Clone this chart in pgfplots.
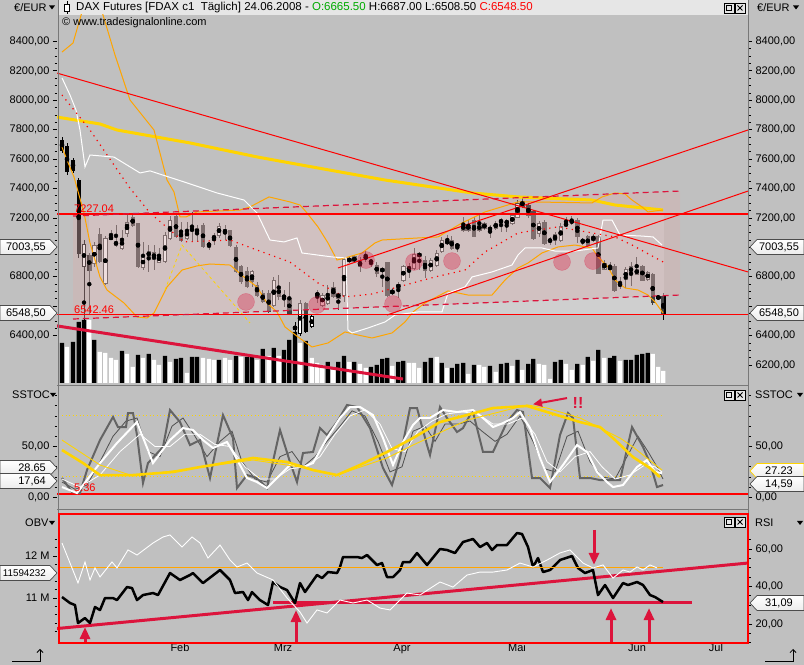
\documentclass[border=0pt]{standalone}
\usepackage{pgfplots}
\pgfplotsset{compat=1.18}
\usepackage{pgfplotstable}
\usepackage{fontspec}
\setmainfont{Liberation Sans}
\usetikzlibrary{arrows.meta}
\definecolor{bgc}{RGB}{192,192,192}
\definecolor{hdr}{RGB}{230,230,230}
\definecolor{crim}{RGB}{220,20,60}
\definecolor{orng}{RGB}{255,165,0}
\definecolor{gold}{RGB}{255,212,0}
\definecolor{boxpink}{RGB}{214,176,174}
\definecolor{stg}{RGB}{100,100,100}
\definecolor{stg2}{RGB}{80,80,80}
\definecolor{grn}{RGB}{0,170,0}
\definecolor{frm}{RGB}{120,120,120}
\newcommand\fs{\fontsize{11bp}{13bp}\selectfont}

\pgfplotstableread{
x o h l c v vb
62 7730 7753 7640 7662 40 1
67 7685 7707 7492 7515 36 0
73 7594 7610 7503 7526 41 1
78.7 7458 7470 6930 6960 61 1
84 6870 7050 6200 7020 63 1
89.3 6948 6960 6540 6846 63 0
94.3 6892 7037 6870 7015 43 1
99.7 7089 7130 6892 6903 31 0
105.3 6756 7077 6745 7062 30 0
111 7055 7118 7050 7073 25 0
116 7039 7152 7005 7016 23 0
122 6994 7120 6982 7062 32 1
127 7096 7220 7073 7170 29 0
132.7 7202 7220 7141 7152 16 0
138 7164 7168 6858 6869 28 1
143 6864 7039 6846 6937 25 0
148.7 6941 7016 6835 6971 29 1
154 6966 7016 6846 6921 23 0
159 6898 6994 6892 6948 18 0
165 6903 7107 6892 7084 27 1
170 7062 7213 7050 7182 21 0
176 7209 7220 7062 7073 24 1
181 7118 7175 7039 7050 25 1
187 7062 7175 7050 7118 10 0
192 7107 7243 7039 7136 26 1
197 7096 7152 7039 7130 26 1
203 7152 7164 6994 7005 25 0
209 7028 7039 6982 7010 24 0
214 7084 7096 7016 7050 23 0
219 7084 7164 7062 7145 23 1
225 7123 7152 7050 7096 25 0
230 7114 7118 7005 7016 23 0
236 7000 7016 6824 6835 27 1
241 6869 6880 6751 6767 26 0
247 6835 6869 6722 6733 26 1
252 6767 6846 6733 6835 26 1
257 6744 6767 6665 6676 23 0
262.7 6688 6710 6620 6631 34 1
268.7 6688 6710 6552 6563 27 0
273.7 6608 6801 6597 6778 35 1
278.7 6733 6812 6642 6665 27 0
284 6654 6710 6597 6676 33 1
289.3 6654 6767 6540 6552 43 1
295 6465 6490 6416 6440 51 1
300 6416 6640 6400 6620 40 0
305.7 6620 6630 6416 6427 42 1
311.7 6461 6540 6450 6529 25 0
317.3 6688 6710 6620 6674 20 0
322.3 6608 6688 6597 6676 18 0
327.7 6620 6744 6608 6688 21 1
333.3 6728 6767 6654 6665 13 0
338.3 6654 6688 6574 6688 21 1
344 6676 6937 6631 6919 27 1
349.3 6903 6937 6892 6926 21 0
354.3 6937 6948 6892 6903 21 1
360 6912 6937 6835 6869 19 0
365.7 6921 6982 6903 6941 15 0
371 6912 6921 6866 6896 16 1
376.7 6880 6903 6801 6824 18 1
382.3 6835 6869 6733 6857 24 1
387.3 6896 6903 6665 6676 25 1
392.3 6688 6722 6676 6704 17 0
398.3 6722 6767 6654 6751 21 1
403.3 6778 6880 6767 6873 22 1
409 6869 6892 6790 6846 20 0
414 6858 6994 6846 6955 20 0
419.3 6960 6971 6846 6937 15 0
425 6914 6941 6790 6846 21 1
430.7 6846 6926 6835 6914 25 1
436.7 6880 6982 6869 6960 26 0
441.7 6971 7073 6960 7050 20 1
447.3 7043 7084 7016 7028 15 0
451.7 7050 7077 6982 6994 15 1
457.3 7005 7028 6971 7021 19 1
463.3 7152 7204 7107 7118 20 1
468.3 7118 7186 7107 7152 9 0
474 7186 7204 7073 7073 18 1
479.3 7152 7220 7107 7118 18 0
484.3 7125 7175 7118 7164 16 0
490 7134 7152 7062 7118 17 1
495.7 7130 7182 7118 7164 11 0
501 7186 7197 7107 7170 19 1
506.7 7182 7190 7107 7159 20 1
512.3 7159 7231 7152 7220 17 0
517.5 7204 7322 7197 7295 23 1
522.3 7281 7333 7265 7311 13 0
528.3 7288 7299 7197 7220 19 1
533.3 7243 7254 7050 7061 24 1
539 7096 7182 7073 7164 19 0
544.3 7168 7186 7016 7028 18 0
550 7055 7073 7016 7039 4 0
555 7050 7107 7016 7089 21 1
560.7 7050 7164 7039 7141 23 1
566 7145 7209 7141 7168 19 0
571.7 7182 7213 7152 7168 13 0
577.3 7186 7197 7028 7077 19 1
582.7 7050 7061 7016 7039 18 0
587.7 7073 7084 7005 7016 26 1
593.3 7046 7091 7039 7073 22 0
598.3 7077 7084 6819 6824 33 1
604.3 6851 6914 6846 6892 25 0
610 6869 6903 6835 6851 25 1
614.3 6873 6887 6699 6710 27 1
620 6733 6801 6715 6762 22 0
625.7 6783 6869 6722 6851 23 1
631 6869 6903 6738 6828 23 1
636.7 6819 6932 6812 6851 28 1
642.3 6873 6880 6774 6778 29 1
647.7 6783 6840 6774 6828 30 1
652.7 6819 6828 6608 6624 29 0
658.3 6665 6676 6642 6654 16 0
663.3 6665.5 6687 6508.5 6548.5 12 0
}\candles

\pgfplotsset{
 base/.style={scale only axis, width=691bp, xmin=57, xmax=748, anchor=south west,
   axis line style={draw=none}, tick align=outside, major tick length=4bp, minor tick length=2.5bp,
   tick style={black, line width=0.8bp}, ticklabel style={font=\fs, text=black}, xtick=\empty},
}
\newcommand\ltag[3][gray!60!black]{%
 \draw[#1, line width=0.7bp, top color=white, bottom color=gray!15] (0,#2-7.5) -- (50,#2-7.5) -- (57,#2) -- (50,#2+7.5) -- (0,#2+7.5) -- cycle;
 \node[anchor=east, font=\fs, inner sep=0pt] at (46,#2) {#3};}
\newcommand\rtag[3][gray!60!black]{%
 \draw[#1, line width=0.7bp, top color=white, bottom color=gray!15] (804,#2-7.5) -- (757,#2-7.5) -- (750,#2) -- (757,#2+7.5) -- (804,#2+7.5) -- cycle;
 \node[font=\fs, inner sep=0pt] at (779,#2) {#3};}
\newcommand\dtri[2]{\fill (#1-3,#2+2) -- (#1+3,#2+2) -- (#1,#2-2) -- cycle;}
\newcommand\wbtn[2]{%
 \draw[black, fill=hdr, line width=0.5bp] (#1,#2-5) rectangle (#1+10,#2+5);
 \draw[black, line width=1bp] (#1+2.5,#2-2.5) rectangle (#1+7.5,#2+2.5);
 \draw[black, fill=hdr, line width=0.5bp] (#1+11,#2-5) rectangle (#1+21,#2+5);
 \draw[black, line width=0.9bp] (#1+13.5,#2-2.5) -- (#1+18.5,#2+2.5) (#1+13.5,#2+2.5) -- (#1+18.5,#2-2.5);}

\begin{document}
\begin{tikzpicture}[x=1bp,y=1bp]
\useasboundingbox (0,0) rectangle (804,665);
\fill[bgc] (0,0) rectangle (804,665);
\fill[hdr] (59,650) rectangle (748,665);

% ---------------- volume overlay ----------------
\begin{axis}[base, at={(57bp,282bp)}, height=368bp, ymin=0, ymax=368, ytick=\empty]
\addplot[ybar, bar width=4.3bp, bar shift=0pt, fill=black, draw=none,
  restrict expr to domain={\thisrow{vb}}{0.5:1.5}] table[x=x, y=v] {\candles};
\addplot[ybar, bar width=4.3bp, bar shift=0pt, fill=white, draw=none,
  restrict expr to domain={\thisrow{vb}}{-0.5:0.5}] table[x=x, y=v] {\candles};
\end{axis}

% ---------------- price panel ----------------
\begin{axis}[base, at={(57bp,282bp)}, height=368bp, ymin=6078, ymax=8580,
  ytick={6400,6600,6800,7000,7200,7400,7600,7800,8000,8200,8400},
  yticklabels={{6400,00},{},{6800,00},{},{7200,00},{7400,00},{7600,00},{7800,00},{8000,00},{8200,00},{8400,00}},
  minor y tick num=3, ytick pos=left]
% candles
\addplot[only marks, mark=none, forget plot, error bars/.cd, y dir=both, y explicit, error mark=none,
  error bar style={black, line width=1bp}]
  table[x=x, y expr={(\thisrow{h}+\thisrow{l})/2}, y error expr={(\thisrow{h}-\thisrow{l})/2}] {\candles};
\addplot[only marks, mark=none, forget plot, error bars/.cd, y dir=both, y explicit, error mark=none,
  error bar style={black, line width=4.4bp}]
  table[x=x, y expr={(\thisrow{o}+\thisrow{c})/2}, y error expr={abs(\thisrow{o}-\thisrow{c})/2+3.4}] {\candles};
\addplot[only marks, mark=none, forget plot, error bars/.cd, y dir=both, y explicit, error mark=none,
  error bar style={white, line width=2.4bp}]
  table[x=x, y expr={(\thisrow{o}+\thisrow{c})/2}, y error expr={max((\thisrow{c}-\thisrow{o})/2-3.4,0)}] {\candles};
% channel boxes
\addplot[fill=white, fill opacity=0.25, draw=none] coordinates {(89,6542.46)(664,6542.46)(664,7227.04)(89,7227.04)};
\addplot[fill=boxpink, fill opacity=0.42, draw=none] coordinates {(73,6513)(680,6676)(680,7383)(73,7213)};
% moving averages / bands
\addplot[gold, line width=3bp] coordinates {(57,7886)(100,7839)(117,7798)(190,7710)(257,7615)(290,7574)(385,7458)(472,7370)(518,7343)(592,7322)(615,7288)(663,7254)};
\addplot[orng, line width=1bp] coordinates {(62,8328)(73,8389)(84,8648)(100,8648)(115,8308)(130,8002)(154,7798)(167,7458)(174,7377)(180,7207)(186,7207)(197,7241)(240,7254)(250,7275)(269,7343)(290,7309)(300,7288)(307,7234)(318,7139)(328,7030)(337,6914)(345,6928)(362,6962)(375,7030)(382,7050)(418,7064)(438,7071)(462,7166)(485,7241)(498,7268)(518,7309)(532,7309)(592,7302)(602,7343)(615,7370)(625,7363)(632,7322)(642,7275)(648,7241)(663,7254)};
\addplot[orng, line width=1bp] coordinates {(62,7682)(67,7594)(74,7479)(84,7234)(90,7030)(100,6799)(107,6710)(124,6622)(137,6527)(147,6520)(154,6554)(167,6731)(182,6846)(197,6874)(210,6887)(230,6880)(244,6799)(257,6731)(267,6622)(277,6561)(285,6459)(298,6391)(312,6323)(328,6350)(345,6425)(358,6404)(372,6384)(392,6418)(405,6493)(413,6561)(425,6622)(448,6704)(468,6676)(492,6676)(505,6778)(518,6860)(528,6894)(542,6962)(558,7003)(575,7016)(592,6996)(598,6935)(608,6867)(615,6778)(625,6724)(638,6710)(648,6676)(655,6629)(663,6554)};
\addplot[white, line width=1bp] coordinates {(62,8152)(70,8036)(76,7934)(80,7798)(85,7547)(90,7628)(114,7614)(140,7506)(150,7520)(184,7445)(217,7370)(244,7322)(257,7234)(270,7050)(284,7037)(297,7064)(302,6962)(332,6935)(346,6928)(348,6438)(352,6418)(368,6452)(385,6493)(395,6540)(418,6561)(442,6561)(448,6690)(465,6731)(472,6799)(492,6833)(512,6880)(518,6948)(525,6996)(542,6996)(555,6975)(575,6975)(598,6996)(603,7186)(612,7186)(620,7084)(642,7077)(653,7071)(662,7016)};
\addplot[red, line width=1.2bp, dash pattern=on 1.2bp off 4.5bp] coordinates {(62,8036)(90,7798)(129,7411)(150,7234)(170,7118)(184,7037)(230,7050)(257,6982)(290,6900)(318,6758)(345,6663)(372,6683)(398,6731)(435,6799)(465,6846)(485,6969)(518,7098)(558,7139)(615,7071)(632,7016)(663,6901)};
\addplot[gold, line width=0.8bp, dash pattern=on 3bp off 3bp] coordinates {(165,6710)(182,7016)(250,6486)};
% trend lines
\addplot[red, line width=1bp] coordinates {(57,8185)(748,6833)};
\addplot[red, line width=1bp] coordinates {(338,6860)(748,7798)};
\addplot[red, line width=1bp] coordinates {(387,6540)(748,7383)};
\addplot[red, line width=1.4bp] coordinates {(57,7227.04)(748,7227.04)};
\addplot[red, line width=1.4bp] coordinates {(57,6542.46)(748,6542.46)};
\addplot[crim, line width=1.2bp, dash pattern=on 6bp off 4bp] coordinates {(73,7213)(680,7383)};
\addplot[crim, line width=1.2bp, dash pattern=on 6bp off 4bp] coordinates {(73,6513)(680,6676)};
\addplot[crim, line width=3bp] coordinates {(57,6466)(403,6105)};
% blobs
\addplot[crim, only marks, mark=*, mark size=8.5bp, mark options={draw=none, fill=crim, opacity=0.33}]
  coordinates {(246,6629)(317,6608)(366,6914)(393,6615)(414,6901)(452,6907)(562,6901)(593,6907)};
\node[anchor=south west, text=red, font=\fs, inner sep=1bp] at (axis cs:73,7227.04) {7227.04};
\node[anchor=south west, text=red, font=\fs, inner sep=1bp] at (axis cs:73,6542.46) {6542.46};
\end{axis}

% right price labels
\begin{axis}[base, at={(57bp,282bp)}, height=368bp, ymin=6078, ymax=8580,
  ytick={6200,6400,6600,6800,7000,7200,7400,7600,7800,8000,8200,8400},
  yticklabels={{6200,00},{6400,00},{},{6800,00},{},{7200,00},{7400,00},{7600,00},{7800,00},{8000,00},{8200,00},{8400,00}},
  minor y tick num=3, ytick pos=right, yticklabel pos=right]
\addplot[draw=none] coordinates {(60,7000)};
\end{axis}

% ---------------- SSTOC panel ----------------
\begin{axis}[base, at={(57bp,158bp)}, height=119bp, ymin=-9.5, ymax=107.5,
  ytick={0,50}, yticklabels={{0,00},{50,00}}, minor ytick={10,20,30,40,60,70,80,90,100}, ytick pos=left]
\addplot[gold, line width=1bp, dash pattern=on 1bp off 2.5bp] coordinates {(62,80)(663,80)};
\addplot[gold, line width=1bp, dash pattern=on 1bp off 2.5bp] coordinates {(62,20)(663,20)};
\addplot[red, line width=1.2bp] coordinates {(57,3.2)(748,3.2)};
\addplot[stg2, line width=0.8bp] coordinates {(62,15)(75,8)(87,12)(100,35)(113,60)(126,75)(137,78)(148,45)(160,40)(172,70)(183,78)(195,60)(207,40)(220,55)(232,65)(242,35)(255,18)(267,15)(280,40)(292,45)(303,30)(315,40)(327,55)(340,70)(352,85)(365,80)(378,55)(390,25)(402,30)(413,65)(425,70)(435,55)(445,72)(458,72)(470,75)(482,65)(495,55)(507,62)(520,80)(533,55)(545,28)(555,25)(567,60)(578,65)(590,35)(602,20)(615,18)(627,40)(638,60)(648,45)(657,30)(663,18)};
\addplot[stg, line width=2bp] coordinates {(62,19.0)(72,5.2)(80,4.2)(87,26.8)(100,56.3)(113,79.0)(118,69.1)(126,69.1)(128,82.9)(133,82.9)(137,61.3)(143,14.1)(148,33.7)(163,49.5)(170,85.8)(180,74.0)(190,51.4)(200,56.3)(210,19.0)(223,80.9)(233,58.3)(237,9.1)(247,21.9)(257,19.0)(267,9.1)(280,66.2)(290,34.7)(297,15.0)(303,43.6)(313,44.6)(320,68.1)(327,61.3)(337,74.0)(347,90.8)(357,88.8)(370,68.1)(383,28.8)(392,12.1)(400,38.7)(410,87.8)(417,87.8)(427,51.4)(430,41.6)(440,88.8)(447,78.0)(457,64.2)(463,68.1)(470,80.9)(473,83.9)(483,44.6)(493,44.6)(507,74.0)(517,85.8)(523,83.9)(532,19.0)(540,19.0)(550,9.1)(560,61.3)(568,82.9)(573,78.0)(580,19.0)(590,19.0)(600,17.0)(620,17.0)(632,69.1)(643,49.5)(650,33.7)(657,10.1)(663,12.1)};
\addplot[white, line width=0.8bp] coordinates {(62,18)(80,10)(100,22)(120,45)(140,62)(155,50)(170,50)(185,62)(200,62)(215,52)(230,50)(245,30)(260,18)(275,18)(290,28)(305,30)(320,40)(335,62)(350,80)(365,86)(380,72)(392,48)(405,45)(418,65)(432,75)(447,82)(462,84)(478,82)(493,72)(508,72)(522,78)(535,62)(547,35)(560,25)(575,40)(590,45)(602,30)(615,18)(630,22)(645,32)(655,30)(662,25)};
\addplot[white, line width=2bp] coordinates {(62,10.1)(77,4.2)(100,33.7)(117,53.4)(137,74.0)(153,33.7)(170,56.3)(183,68.1)(193,66.2)(203,56.3)(213,48.5)(227,54.4)(233,44.6)(247,19.0)(257,15.0)(267,9.1)(280,21.9)(290,31.8)(303,29.8)(313,33.7)(327,58.3)(340,78.0)(350,88.8)(360,88.8)(373,80.9)(383,58.3)(393,31.8)(403,54.4)(413,71.1)(420,78.0)(430,78.0)(443,85.8)(457,83.9)(473,85.8)(483,78.0)(493,69.1)(503,73.0)(513,78.0)(520,83.9)(530,68.1)(540,38.7)(550,15.0)(563,31.8)(577,51.4)(587,44.6)(597,24.9)(607,15.0)(613,10.1)(623,12.1)(637,29.8)(647,36.7)(655,24.9)(662,23.9)};
\addplot[gold, line width=0.9bp] coordinates {(62,56.3)(100,31.8)(133,21.0)(180,26.8)(253,36.7)(300,29.8)(337,21.9)(387,38.7)(413,51.4)(467,75.9)(527,90.8)(547,87.8)(580,78.0)(620,58.3)(633,49.5)(662,26.8)};
\addplot[gold, line width=2.6bp] coordinates {(62,46.5)(83,33.7)(100,21.9)(133,21.9)(173,24.9)(200,29.8)(213,31.8)(253,38.7)(287,34.7)(313,26.8)(337,21.9)(360,31.8)(387,44.6)(413,58.3)(440,74.0)(467,80.9)(493,87.8)(527,89.8)(547,83.9)(580,74.0)(600,69.1)(613,58.3)(633,39.6)(650,28.8)(660,20.0)};
\addplot[crim, line width=2bp, -{Triangle[width=8bp,length=9bp]}] coordinates {(567,97.6)(533,91.5)};
\node[anchor=west, text=red, font=\fs, inner sep=0pt] at (axis cs:74,9.1) {5.36};
\node[anchor=center, text=crim, font=\fontsize{16bp}{16bp}\selectfont\bfseries, inner sep=0pt] at (axis cs:578,93) {!!};
\end{axis}
\begin{axis}[base, at={(57bp,158bp)}, height=119bp, ymin=-9.5, ymax=107.5,
  ytick={0,50}, yticklabels={{0,00},{50,00}}, minor ytick={10,20,30,40,60,70,80,90,100}, ytick pos=right, yticklabel pos=right]
\addplot[draw=none] coordinates {(60,50)};
\end{axis}

% ---------------- OBV / RSI panel ----------------
\begin{axis}[base, at={(57bp,22bp)}, height=129bp, ymin=9.93, ymax=13.0,
  ytick={11,12}, yticklabels={{11 M},{12 M}},
  minor ytick={10.2,10.4,10.6,10.8,11.2,11.4,11.6,11.8,12.2,12.4}, ytick pos=left,
  xtick={180,283,402,517,637,716}, xticklabels={Feb,Mrz,Apr,Mai,Jun,Jul}, xtick pos=bottom,
  xtick style={draw=none}, xticklabel style={yshift=7bp},
  extra x ticks={127,242,345,463,578,690}, extra x tick labels={{},{},{},{},{},{}},
  extra x tick style={tick style={draw=black}}]
\addplot[crim, line width=3bp] coordinates {(57,10.274)(748,11.833)};
\addplot[crim, line width=3bp] coordinates {(273,10.905)(692,10.905)};
\addplot[black, line width=2.5bp, line join=round] coordinates {(62,11.024)(70,10.881)(75,10.833)(78,10.405)(85,10.524)(90,10.405)(95,10.786)(100,10.714)(105,11.0)(113,11.0)(117,10.952)(127,11.262)(132,11.238)(137,10.952)(143,11.071)(153,11.119)(158,11.071)(170,11.595)(180,11.429)(190,11.548)(193,11.595)(203,11.357)(220,11.667)(230,11.429)(235,11.119)(243,11.143)(248,10.952)(252,11.143)(260,10.952)(268,10.833)(273,11.381)(280,11.262)(287,11.190)(295,10.881)(300,11.357)(305,11.143)(317,11.548)(322,11.476)(328,11.619)(337,11.595)(340,11.738)(343,11.976)(357,11.976)(362,11.952)(367,12.024)(377,11.786)(382,11.833)(387,11.5)(393,11.5)(400,11.667)(403,11.857)(410,11.857)(417,12.071)(427,11.786)(440,12.167)(447,12.143)(455,12.071)(463,12.333)(473,12.405)(480,12.214)(487,12.310)(492,12.143)(497,12.262)(507,12.262)(517,12.548)(522,12.524)(528,12.214)(533,11.738)(538,11.952)(543,11.619)(550,11.667)(560,11.905)(572,12.0)(578,11.714)(585,11.595)(593,11.667)(598,11.071)(605,11.310)(613,11.0)(623,11.357)(628,11.310)(637,11.381)(643,11.310)(650,11.071)(655,11.024)(663,10.905)};
\addplot[crim, line width=3bp, -{Triangle[width=10bp,length=12bp]}] coordinates {(85,9.93)(85,10.31)};
\addplot[crim, line width=3bp, -{Triangle[width=10bp,length=12bp]}] coordinates {(296,9.93)(296,10.714)};
\addplot[crim, line width=3bp, -{Triangle[width=10bp,length=12bp]}] coordinates {(611,9.93)(611,10.762)};
\addplot[crim, line width=3bp, -{Triangle[width=10bp,length=12bp]}] coordinates {(649,9.93)(649,10.762)};
\addplot[crim, line width=3bp, -{Triangle[width=10bp,length=12bp]}] coordinates {(594,12.62)(594,11.79)};
\end{axis}
\begin{axis}[base, at={(57bp,22bp)}, height=129bp, ymin=9.87, ymax=78.67,
  ytick={20,40,60}, yticklabels={{20,00},{40,00},{60,00}},
  minor ytick={10,15,25,30,35,45,50,55,65}, ytick pos=right, yticklabel pos=right]
\addplot[orng, line width=1bp] coordinates {(60,50)(663,50)};
\addplot[white, line width=0.9bp] coordinates {(62,63.2)(78,41.9)(85,53.1)(90,43.5)(95,49.9)(100,45.1)(112,53.1)(117,49.9)(128,59.5)(137,56.8)(153,63.2)(163,66.4)(170,67.5)(182,61.1)(192,66.4)(200,63.2)(208,55.2)(220,62.1)(230,54.1)(237,50.4)(247,52.5)(257,47.2)(273,43.5)(287,33.9)(300,26.4)(307,20.5)(317,27.5)(327,25.9)(340,32.8)(353,31.2)(367,32.8)(380,28.5)(390,27.5)(407,36.5)(420,35.5)(440,42.4)(453,39.7)(467,46.1)(480,47.7)(493,47.7)(507,48.8)(520,52.5)(533,50.4)(547,54.1)(560,57.9)(570,59.5)(583,52.5)(593,49.9)(603,51.5)(613,44.5)(623,48.8)(630,47.7)(637,50.4)(643,48.8)(650,51.5)(657,49.9)};
\end{axis}

% ---------------- frames, separators, labels ----------------
\draw[frm, line width=1bp] (58.5,151) -- (58.5,665);
\draw[frm, line width=1bp] (748,151) -- (748,665);
\draw[frm, line width=1.2bp] (57,279.5) -- (748,279.5);
\draw[frm, line width=1.2bp] (57,155.5) -- (748,155.5);
\draw[red, line width=1.2bp] (59,22) rectangle (748,151);
% header
\draw[black, line width=0.8bp] (67,651) -- (67,664);
\draw[black, fill=white, line width=0.8bp] (64.5,654) rectangle (69.5,661);
\node[anchor=west, font=\fontsize{11.5bp}{13bp}\selectfont, inner sep=0pt] at (76,657.5) {DAX Futures [FDAX c1\ \ Täglich] 24.06.2008 - \textcolor{grn}{O:6665.50} H:6687.00 L:6508.50 \textcolor{red}{C:6548.50}};
\node[anchor=west, font=\fs, inner sep=0pt] at (62,642) {© www.tradesignalonline.com};
\node[anchor=west, font=\fs, inner sep=0pt] at (14,657.5) {€/EUR};
\dtri{52}{657.5}
\node[anchor=west, font=\fs, inner sep=0pt] at (757,657.5) {€/EUR};
\dtri{796}{657.5}
\node[anchor=west, font=\fs, inner sep=0pt] at (12,270) {SSTOC};
\dtri{53}{270}
\node[anchor=west, font=\fs, inner sep=0pt] at (755,270) {SSTOC};
\dtri{800}{270}
\node[anchor=west, font=\fs, inner sep=0pt] at (25,142) {OBV};
\dtri{52}{142}
\node[anchor=west, font=\fs, inner sep=0pt] at (755,142) {RSI};
\dtri{800}{142}
\wbtn{724}{657}
\wbtn{724}{270}
\wbtn{724}{143}
% tags
\ltag{418}{7003,55}
\ltag{352}{6548,50}
\rtag{418}{7003,55}
\rtag{352}{6548,50}
\ltag{197}{28.65}
\ltag{184}{17,64}
\rtag[gold]{194}{27.23}
\rtag{181}{14,59}
\ltag{92}{\fontsize{9.8bp}{12bp}\selectfont 11594232}
\rtag{62}{31,09}
% corner symbols
\draw[black, line width=0.8bp, -{Straight Barb[length=3bp]}] (12,4) -- (40,4) -- (40,16);
\draw[black, line width=0.8bp, -{Straight Barb[length=3bp]}] (765,4) -- (793,4) -- (793,16);
\end{tikzpicture}
\end{document}
